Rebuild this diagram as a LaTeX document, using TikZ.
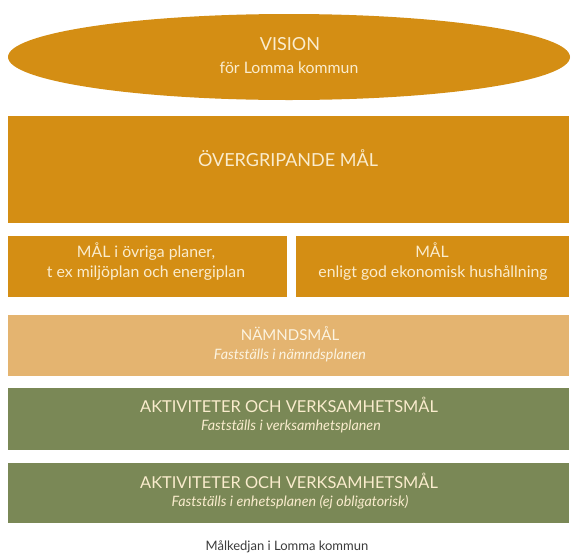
\documentclass[tikz,border=0pt]{standalone}
\usepackage{fontspec}
\setmainfont{Lato}
\usetikzlibrary{shapes.geometric}
\definecolor{goldc}{RGB}{212,142,20}
\definecolor{tanc}{RGB}{228,180,112}
\definecolor{greenc}{RGB}{122,136,86}
\definecolor{creamc}{RGB}{250,236,205}
\definecolor{capc}{RGB}{60,60,60}
\tikzset{
  panel/.style={draw=none, inner sep=0pt, outer sep=0pt},
  ttl/.style={text=creamc, font=\fontsize{16.4}{18}\selectfont, inner sep=0pt},
  sub/.style={text=creamc, font=\fontsize{14.3}{16}\selectfont\itshape, inner sep=0pt},
  mid/.style={text=creamc, font=\fontsize{15.8}{18}\selectfont, inner sep=0pt},
}
\begin{document}
\begin{tikzpicture}[x=1pt,y=-1pt]
\useasboundingbox (0,0) rectangle (571,555);
\fill[white] (0,0) rectangle (571,555);
% shapes
\node[panel, ellipse, fill=goldc, minimum width=562, minimum height=86] (vision) at (289,57) {};
\node[panel, rectangle, fill=goldc, minimum width=561, minimum height=107] (over) at (288.5,169.5) {};
\node[panel, rectangle, fill=goldc, minimum width=279, minimum height=61] (ovr) at (147.5,266.5) {};
\node[panel, rectangle, fill=goldc, minimum width=273, minimum height=61] (eko) at (432.5,266.5) {};
\node[panel, rectangle, fill=tanc, minimum width=561, minimum height=61] (namnd) at (288.5,345.5) {};
\node[panel, rectangle, fill=greenc, minimum width=561, minimum height=62] (akt1) at (288.5,419) {};
\node[panel, rectangle, fill=greenc, minimum width=561, minimum height=60] (akt2) at (288.5,493) {};
% texts
\node[ttl, font=\fontsize{18}{20}\selectfont] (t1) at (290,44) {VISION};
\node[mid] (t2) at (289,68) {för Lomma kommun};
\node[ttl, font=\fontsize{18}{20}\selectfont] (t3) at (288,158) {ÖVERGRIPANDE MÅL};
\node[mid] (t4) at (146,252) {MÅL i övriga planer,};
\node[mid] (t5) at (146,273) {t ex miljöplan och energiplan};
\node[mid] (t6) at (432,250) {MÅL};
\node[mid] (t7) at (433,273) {enligt god ekonomisk hushållning};
\node[ttl, font=\fontsize{15}{17}\selectfont, text=creamc!60!white] (t8) at (290,334) {NÄMNDSMÅL};
\node[sub, text=creamc!60!white] (t9) at (290,355) {Fastställs i nämndsplanen};
\node[ttl] (t10) at (289,405) {AKTIVITETER OCH VERKSAMHETSMÅL};
\node[sub] (t11) at (291,426) {Fastställs i verksamhetsplanen};
\node[ttl] (t12) at (289,481) {AKTIVITETER OCH VERKSAMHETSMÅL};
\node[sub] (t13) at (290,502) {Fastställs i enhetsplanen (ej obligatorisk)};
\node[text=capc, font=\fontsize{13}{15}\selectfont, inner sep=0pt] (cap) at (287,547) {Målkedjan i Lomma kommun};
\end{tikzpicture}
\end{document}
